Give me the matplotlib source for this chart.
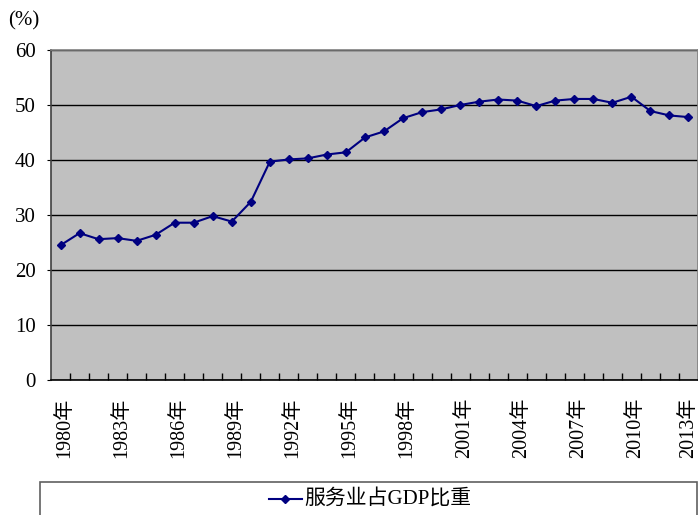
import matplotlib.pyplot as plt
import matplotlib.transforms as mtransforms
from matplotlib.patches import Rectangle
from matplotlib.lines import Line2D
from matplotlib.ticker import FixedLocator

# service sector share of GDP (%), 1980-2013
years = list(range(1980, 2014))
share = [24.5, 26.7, 25.6, 25.8, 25.3, 26.4, 28.6, 28.6, 29.8, 28.8,
         32.4, 39.7, 40.1, 40.3, 41.0, 41.4, 44.1, 45.2, 47.6, 48.7,
         49.2, 50.0, 50.6, 51.0, 50.8, 49.8, 50.8, 51.1, 51.1, 50.4,
         51.5, 48.9, 48.1, 47.8]
yticks = [0, 10, 20, 30, 40, 50, 60]
series_name = '服务业占GDP比重'

fonts = ['Liberation Serif', 'Noto Sans CJK SC']
plt.rcParams['font.family'] = fonts

fig = plt.figure(figsize=(6.98, 5.15), dpi=100)
ax = fig.add_axes([51 / 698, 1 - 380 / 515, 647 / 698, 330 / 515])
ax.set_facecolor('#C0C0C0')

x = list(range(len(years)))
ax.plot(x, share, color='#000080', lw=1.5, marker='D', ms=4.5,
        markerfacecolor='#000080', markeredgecolor='#000080', zorder=3)

ax.set_xlim(-0.5, len(years) - 0.5)
ax.set_ylim(0, 60)
ax.set_yticks(yticks)
ax.set_yticklabels([str(v) for v in yticks], fontsize=15)
ax.yaxis.grid(True, color='black', lw=1)
ax.set_axisbelow(True)
ax.tick_params(axis='y', length=3, direction='out', pad=8, color='black')

# labels every 3 years at category centres, tick marks between categories
ax.set_xticks(x[::3])
ax.set_xticklabels([f'{y}年' for y in years[::3]], rotation=90,
                   fontsize=14.5)
ax.tick_params(axis='x', which='major', length=0, pad=13)
shift = mtransforms.ScaledTranslation(4 / 100, 0, fig.dpi_scale_trans)
for lbl in ax.get_xticklabels()[:-1]:
    lbl.set_transform(lbl.get_transform() + shift)
ax.xaxis.set_minor_locator(FixedLocator([i + 0.5 for i in range(len(years) - 1)]))
ax.tick_params(axis='x', which='minor', direction='in', length=5,
               color='black', width=1)

ax.spines['left'].set_color('#404040')
ax.spines['bottom'].set_color('black')
ax.spines['top'].set_color('#808080')
ax.spines['right'].set_color('#808080')
for s in ax.spines.values():
    s.set_linewidth(1.2)

fig.text(8 / 698, 1 - 21 / 515, '(%)', fontsize=15, va='center', ha='left')

# legend box, cut at the bottom edge like the original
fig.patches.append(Rectangle((40 / 698, -0.05), 657 / 698, 0.05 + 33 / 515,
                             transform=fig.transFigure, fill=False,
                             edgecolor='#606060', lw=1.2))
ly = 1 - 499 / 515
fig.lines.append(Line2D([269 / 698, 302 / 698], [ly, ly], transform=fig.transFigure,
                        color='#000080', lw=1.5))
fig.lines.append(Line2D([285 / 698], [ly], transform=fig.transFigure,
                        color='#000080', marker='D', ms=4))
fig.text(304 / 698, ly, series_name, fontsize=15, va='center', ha='left')

fig.savefig('out.png', dpi=100)
